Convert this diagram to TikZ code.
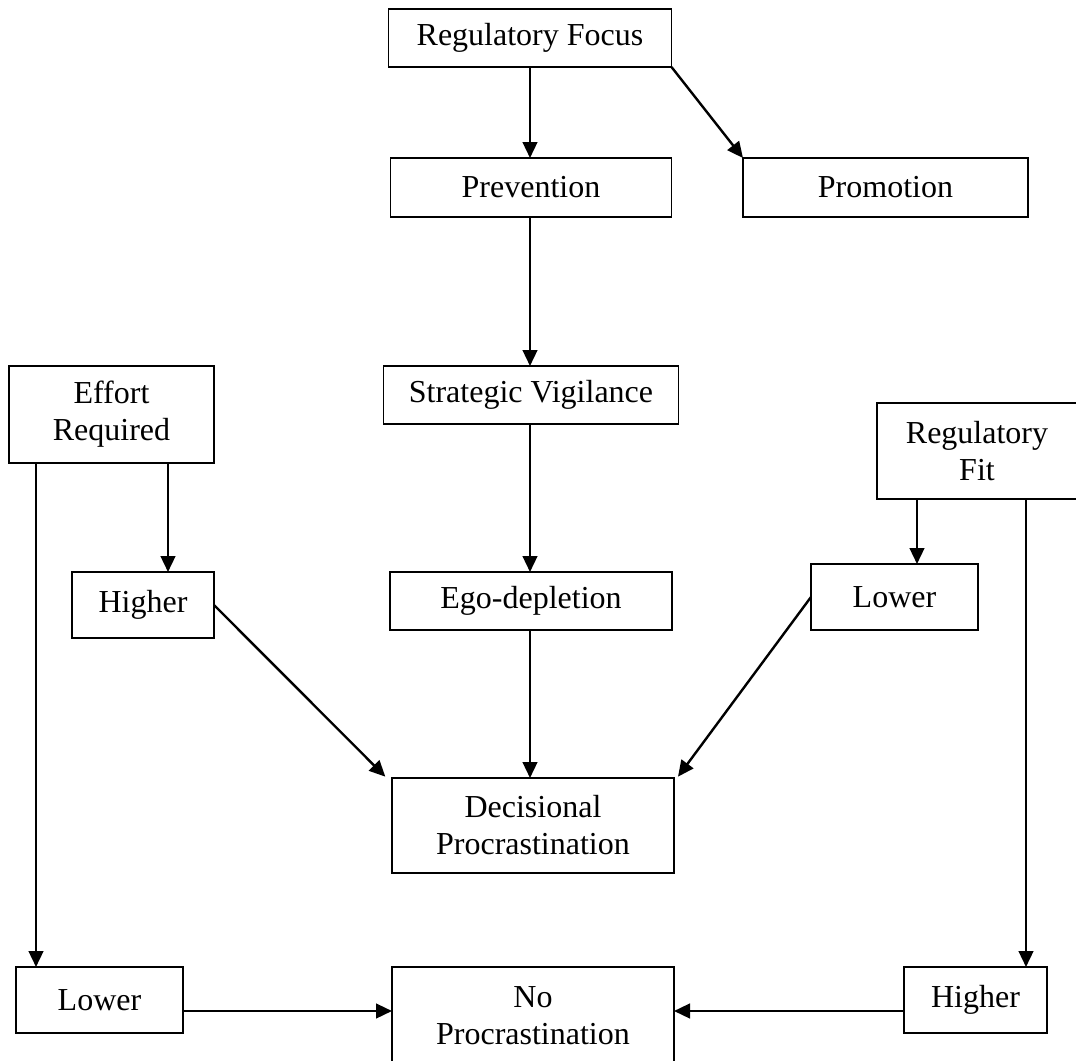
\documentclass[tikz,border=0pt]{standalone}
\usepackage{fontspec}
\setmainfont{Liberation Serif}
\usetikzlibrary{arrows.meta}
\begin{document}
\begin{tikzpicture}[x=0.75pt,y=-0.75pt,
  bx/.style 2 args={draw, line width=1.3pt, rectangle, inner sep=0pt, outer sep=0pt,
    minimum width=#1*0.75pt, minimum height=#2*0.75pt, align=center,
    font=\fontsize{24pt}{27.75pt}\selectfont},
  arr/.style={line width=1.8pt, -{Triangle[length=12pt,width=11pt]}}]
\useasboundingbox (0,0) rectangle (1076,1061);
\node[bx={283}{58}] (rf) at (530,38) {Regulatory Focus};
\node[bx={281}{59}] (prev) at (531,187.5) {Prevention};
\node[bx={285}{59}] (prom) at (885.5,187.5) {Promotion};
\node[bx={295}{58}] (sv) at (531,395) {Strategic Vigilance};
\node[bx={205}{97}] (eff) at (111.5,414.5) {Effort\\Required};
\node[bx={200}{96}] (rfit) at (977,451) {Regulatory\\Fit};
\node[bx={142}{66}] (hl) at (143,605) {Higher};
\node[bx={282}{58}] (ego) at (531,601) {Ego-depletion};
\node[bx={167}{66}] (lr) at (894.5,597) {Lower};
\node[bx={282}{95}] (dp) at (533,825.5) {Decisional\\Procrastination};
\node[bx={167}{66}] (ll) at (99.5,1000) {Lower};
\node[bx={282}{97}] (np) at (533,1015.5) {No\\Procrastination};
\node[bx={143}{66}] (hr) at (975.5,1000) {Higher};
% named coordinates for off-centre connector ends
\coordinate (mid) at (530,0);
\coordinate (effL) at (36,463);
\coordinate (effR) at (168,463);
\coordinate (fitL) at (917,499);
\coordinate (fitR) at (1026,499);
\coordinate (llE) at (183,1011);
\coordinate (hrW) at (904,1011);
% connectors
\draw[arr] (mid |- rf.south) -- (mid |- prev.north);
\draw[arr] (rf.south east) -- (prom.north west);
\draw[arr] (mid |- prev.south) -- (mid |- sv.north);
\draw[arr] (mid |- sv.south) -- (mid |- ego.north);
\draw[arr] (mid |- ego.south) -- (mid |- dp.north);
\draw[arr] (effR) -- (effR |- hl.north);
\draw[arr] (effL) -- (effL |- ll.north);
\draw[arr] (hl.east) -- ([xshift=-5pt,yshift=1pt]dp.north west);
\draw[arr] (lr.west) -- ([xshift=3pt,yshift=1pt]dp.north east);
\draw[arr] (fitL) -- (fitL |- lr.north);
\draw[arr] (fitR) -- (fitR |- hr.north);
\draw[arr] (llE) -- (llE -| np.west);
\draw[arr] (hrW) -- (hrW -| np.east);
\end{tikzpicture}
\end{document}
